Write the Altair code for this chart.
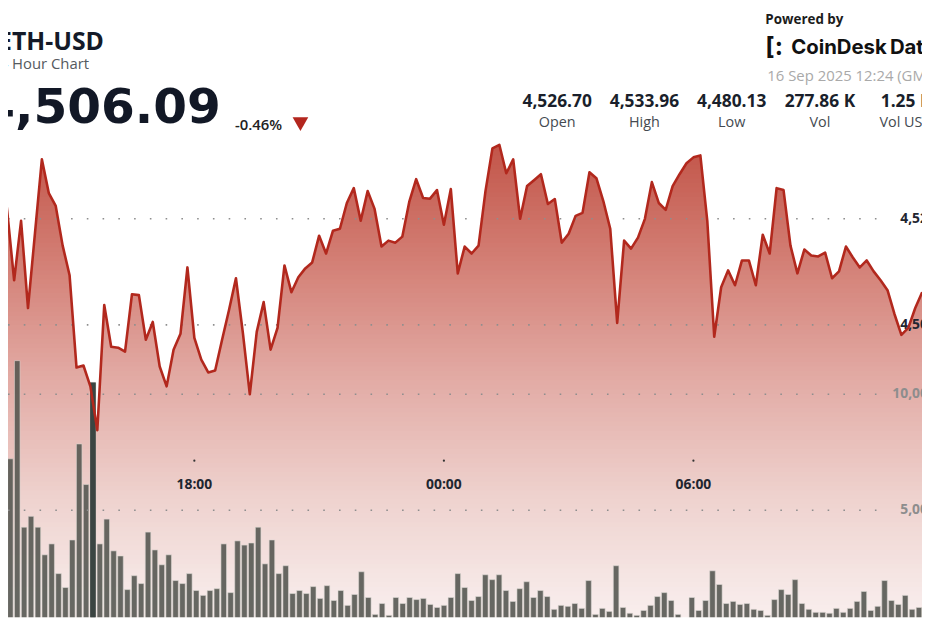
import altair as alt
import numpy as np
import pandas as pd

# ---------------- data ----------------
# 10-minute slots of the 24 h window (slot 0 = 15 Sep 12:30 GMT, slot 143 = 16 Sep 12:20 GMT)
first_slot = 5  # first slot visible in the picture (13:20)

price = [
    4532.71, 4521.50, 4508.41, 4519.63, 4503.18, 4517.20, 4531.21, 4524.86, 4522.43, 4514.95,
    4509.35, 4491.96, 4492.34, 4488.41, 4480.13, 4503.74, 4495.89, 4495.70, 4494.95, 4505.79,
    4505.61, 4497.20, 4500.56, 4492.15, 4488.41, 4495.33, 4498.32, 4510.84, 4497.57, 4493.46,
    4491.03, 4491.40, 4497.20, 4502.80, 4508.79, 4498.50, 4486.92, 4498.69, 4504.30, 4495.33,
    4499.44, 4511.21, 4506.17, 4508.97, 4510.65, 4511.78, 4516.82, 4513.46, 4517.76, 4518.13,
    4522.99, 4525.79, 4519.63, 4525.23, 4521.87, 4514.77, 4515.89, 4515.51, 4516.64, 4523.18,
    4527.48, 4523.93, 4523.80, 4525.42, 4518.88, 4525.61, 4509.72, 4514.77, 4513.46, 4514.95,
    4525.23, 4533.27, 4533.96, 4528.60, 4531.21, 4520.00, 4526.17, 4527.29, 4528.41, 4522.80,
    4523.74, 4515.51, 4517.20, 4520.56, 4521.12, 4528.79, 4527.66, 4523.36, 4518.13, 4500.37,
    4515.89, 4514.39, 4516.45, 4520.00, 4526.92, 4522.99, 4521.68, 4526.17, 4528.41, 4530.47,
    4531.59, 4531.96, 4519.63, 4497.76, 4507.10, 4510.28, 4507.48, 4512.15, 4512.15, 4507.48,
    4517.01, 4513.46, 4525.79, 4525.42, 4514.95, 4509.72, 4514.21, 4513.08, 4512.90, 4513.64,
    4508.79, 4510.09, 4514.77, 4512.71, 4510.84, 4512.15, 4510.09, 4508.41, 4506.54, 4502.06,
    4498.13, 4499.44, 4503.18, 4506.17,
]

volume = [
    2440, 7220, 11450, 4270, 4740, 4270, 3080, 3550, 2270, 1670,
    3720, 7860, 6110, 10510, 3550, 4620, 3250, 3030, 1580, 2180,
    1840, 4060, 3290, 2650, 3080, 1970, 1840, 2270, 1540, 1330,
    1540, 1620, 3550, 1450, 3680, 3500, 3590, 4270, 2690, 3720,
    2270, 2610, 1410, 1540, 1410, 1710, 1200, 1750, 1110, 1540,
    900, 1370, 2350, 1240, 510, 980, 470, 1240, 980, 1240,
    1150, 1200, 940, 810, 900, 1240, 2270, 1670, 1110, 1280,
    2220, 2010, 2220, 1540, 1070, 1620, 1920, 1240, 1540, 1280,
    730, 900, 860, 980, 770, 1970, 510, 770, 640, 2610,
    810, 560, 470, 680, 900, 1280, 1450, 1110, 510, 170,
    1240, 680, 1110, 2390, 1800, 980, 1070, 940, 980, 730,
    680, 470, 1150, 1580, 1370, 2010, 980, 730, 600, 600,
    560, 770, 600, 770, 1070, 1500, 680, 860, 1970, 1110,
    940, 1330, 730, 810,
]

hover_slot = 18  # highlighted volume bar

tick_slots = [33, 69, 105]
tick_labels = ["18:00", "00:00", "06:00"]

price_grid = [4500, 4520]
price_grid_labels = ["4,500", "4,520"]
vol_grid = [5000, 10000]
vol_grid_labels = ["5,000", "10,000"]

stat_values = ["4,526.70", "4,533.96", "4,480.13", "277.86 K", "1.25 B"]
stat_names = ["Open", "High", "Low", "Vol", "Vol USD"]

# ---------------- layout / style ----------------
W, H = 922, 612
FONT = "Open Sans"
X_DOM = [6.83, 137.26]
P_DOM = [4444.86, 4559.25]
V_DOM = [384.6, 26538.5]
STAT_X = [554, 642, 730, 819, 906]

# vertical fill gradient under the price line (price level -> colour)
GRAD_TOP = 4538.0
GRAD_LEVELS = [4534.0, 4512.0, 4490.1, 4468.2, 4446.36]
GRAD_COLORS = ["#c25549", "#d37f75", "#e2aaa4", "#eed1cd", "#f8edec"]

slots = list(range(first_slot, first_slot + len(price)))
df = pd.DataFrame({"slot": slots, "price": price, "volume": volume})

xs = alt.Scale(domain=X_DOM, nice=False, zero=False)
ps = alt.Scale(domain=P_DOM, nice=False, zero=False)
vs = alt.Scale(domain=V_DOM, nice=False, zero=False)

# thin overlapping horizontal strips paint the gradient; the part above the line is masked white
edges = np.linspace(GRAD_TOP, P_DOM[0] - 2, 111)
step = edges[0] - edges[1]
bands = pd.DataFrame({"b0": edges[:-1], "b1": edges[1:] - 0.45 * step})
bands["mid"] = (edges[:-1] + edges[1:]) / 2
grad = alt.Chart(bands).mark_rect(strokeWidth=0, clip=True).encode(
    x=alt.value(0), x2=alt.value(W),
    y=alt.Y("b0:Q", scale=ps, axis=None), y2="b1:Q",
    color=alt.Color(
        "mid:Q", legend=None,
        scale=alt.Scale(domain=GRAD_LEVELS[::-1], range=GRAD_COLORS[::-1], clamp=True, interpolate="rgb"),
    ),
)

base = alt.Chart(df)

mask = base.mark_area(color="white", opacity=1, clip=True).encode(
    x=alt.X("slot:Q", scale=xs, axis=None),
    y=alt.Y("price:Q", scale=ps, axis=None),
    y2=alt.datum(GRAD_TOP + 3),
)

bar_x = alt.X("bx:Q", scale=xs, axis=None)
bars = base.transform_calculate(bx="(datum.slot + 0.5) * 143 / 144").mark_bar(
    size=5.6, color="#53554f", opacity=0.88, stroke="#d8d6d2", strokeWidth=0.6, clip=True
).encode(
    x=bar_x,
    y=alt.Y("volume:Q", scale=vs, axis=None),
    y2=alt.datum(0),
)

hover_bar = base.transform_filter(f"datum.slot == {hover_slot}").transform_calculate(
    bx="(datum.slot + 0.5) * 143 / 144"
).mark_bar(size=5.6, color="#3b4542", clip=True).encode(
    x=bar_x,
    y=alt.Y("volume:Q", scale=vs, axis=None),
    y2=alt.datum(0),
)

line = base.mark_line(color="#b2281d", strokeWidth=2.6, strokeJoin="round", clip=True).encode(
    x=alt.X("slot:Q", scale=xs, axis=None),
    y=alt.Y("price:Q", scale=ps, axis=None),
)

dash = dict(strokeDash=[1.6, 14.3], color="#8e8e8e", strokeWidth=1.6)
pgrid = alt.Chart(pd.DataFrame({"p": price_grid, "t": price_grid_labels}))
pgrid_rules = pgrid.mark_rule(**dash).encode(
    y=alt.Y("p:Q", scale=ps, axis=None), x=alt.value(0), x2=alt.value(878)
)
pgrid_text = pgrid.mark_text(
    align="right", baseline="middle", font=FONT, fontSize=14, fontWeight="bold", color="#1f2630"
).encode(y=alt.Y("p:Q", scale=ps, axis=None), x=alt.value(936), text="t:N")

vgrid = alt.Chart(pd.DataFrame({"v": vol_grid, "t": vol_grid_labels}))
vgrid_rules = vgrid.mark_rule(**dash).encode(
    y=alt.Y("v:Q", scale=vs, axis=None), x=alt.value(0), x2=alt.value(878)
)
vgrid_text = vgrid.mark_text(
    align="right", baseline="middle", font=FONT, fontSize=14, fontWeight="bold", color="#8d8d8d"
).encode(y=alt.Y("v:Q", scale=vs, axis=None), x=alt.value(936), text="t:N")

ticks = alt.Chart(pd.DataFrame({"slot": tick_slots, "t": tick_labels}))
tick_dots = ticks.mark_point(filled=True, size=5, color="#333333", opacity=1).encode(
    x=alt.X("slot:Q", scale=xs, axis=None), y=alt.value(454)
)
tick_text = ticks.mark_text(
    align="center", baseline="middle", font=FONT, fontSize=14, fontWeight="bold", color="#1e2630"
).encode(x=alt.X("slot:Q", scale=xs, axis=None), y=alt.value(479), text="t:N")


def label(text, x, y, size, weight="normal", color="#1a1f2b", align="left", font=FONT, baseline="alphabetic"):
    return alt.Chart(pd.DataFrame({"t": [text]})).mark_text(
        align=align, baseline=baseline, font=font, fontSize=size, fontWeight=weight, color=color
    ).encode(x=alt.value(x), y=alt.value(y), text="t:N")


header = [
    label("ETH-USD", -10, 40, 25, "bold", "#141a28"),
    label("24 Hour Chart", -17, 59, 15, "normal", "#555a60"),
    label("4,506.09", -27, 113, 49, "bold", "#121826", font="DejaVu Sans"),
    label("-0.46%", 229, 120, 15, 600, "#222222"),
    label("Powered by", 764, 13, 13.5, "bold", "#1c1c1c"),
    label("[:", 764, 45, 25, "bold", "#111111", font="Inter"),
    label("CoinDesk\u2009Data", 790, 44, 20.5, "bold", "#111111", font="Inter"),
    label("16 Sep 2025 12:24 (GMT)", 766, 71, 15, "normal", "#a9a9a9"),
]

tri = alt.Chart(pd.DataFrame({"t": ["down"]})).mark_point(
    shape="triangle-down", filled=True, size=250, color="#b3261e", opacity=1
).encode(x=alt.value(295), y=alt.value(114.5))

stats = []
for sx, val, name in zip(STAT_X, stat_values, stat_names):
    stats.append(label(val, sx, 97, 17.5, "bold", "#1a1f2b", align="center"))
    stats.append(label(name, sx, 117, 14.5, "normal", "#444a50", align="center"))

chart = alt.layer(
    grad, mask, bars, hover_bar, pgrid_rules, vgrid_rules, pgrid_text, vgrid_text, line,
    tick_dots, tick_text, tri, *header, *stats,
).resolve_scale(y="independent", color="independent").properties(
    width=W, height=H, padding=0,
    autosize=alt.AutoSizeParams(type="none"),
    background="white",
).configure_view(stroke=None)

chart.save("out.html", embed_options={"renderer": "svg", "actions": False})
